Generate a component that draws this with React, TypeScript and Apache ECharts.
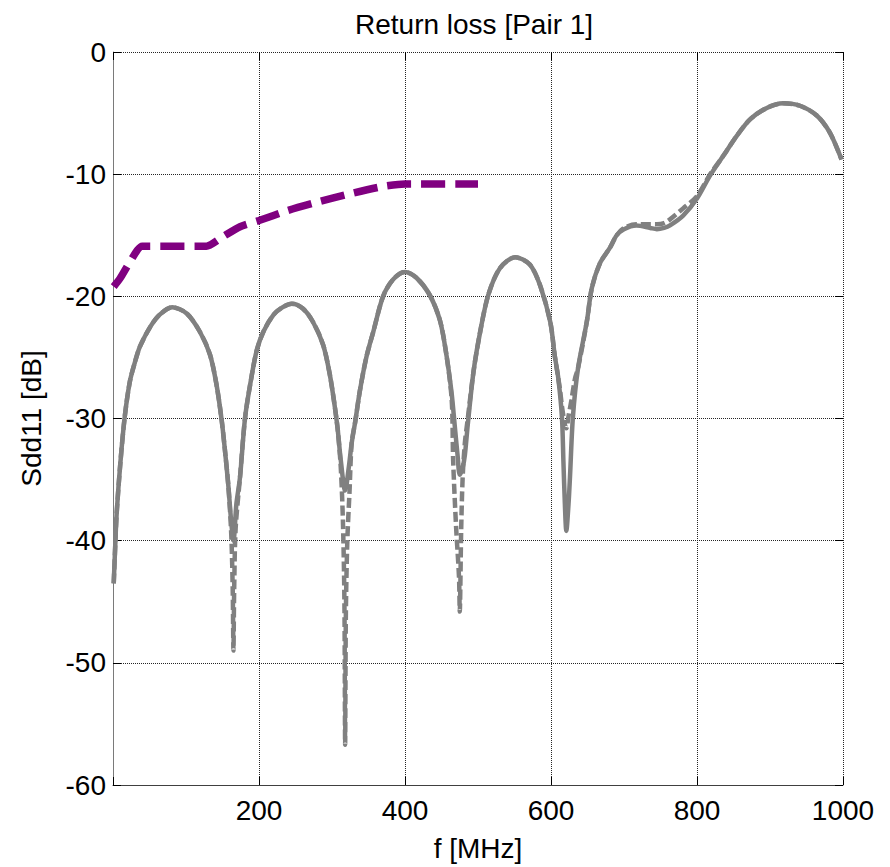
import React, { useEffect, useRef } from "react";
import * as echarts from "echarts";

const FONT = "'Liberation Sans', Arial, sans-serif";

const titleText = "Return loss [Pair 1]";
const xAxisName = "f [MHz]";
const yAxisName = "Sdd11 [dB]";

const xTicks = [0, 200, 400, 600, 800, 1000];
const yTicks = [-60, -50, -40, -30, -20, -10, 0];

const solidF = [
  1, 3, 5, 10, 16, 23, 30, 37, 51, 64, 81, 101, 119, 133, 142, 149, 153, 158, 162, 165, 169, 174, 181, 190, 197, 206, 220, 232, 245,
  260, 274, 288, 297, 304, 308, 312, 318, 323, 327, 332, 338, 347, 357, 370, 384, 400, 416, 434, 448, 457, 464, 468, 472, 475, 479,
  482, 486, 494, 503, 514, 530, 551, 571, 585, 599, 605, 610, 615, 617, 619, 621, 624, 626, 630, 637, 649, 656, 667, 681, 690, 700,
  717, 736, 745, 755, 763, 781, 800, 818, 836, 854, 873, 895, 918, 941, 964, 982, 998,
];
const solidDb = [
  -43.5, -40.5, -37.8, -33.7, -29.9, -27.0, -25.4, -24.1, -22.5, -21.5, -20.9, -21.4, -22.9, -24.8, -27.3, -30.2, -32.4, -35.5, -38.5,
  -40.0, -37.0, -34.8, -29.9, -26.5, -24.4, -22.9, -21.5, -20.9, -20.6, -21.0, -22.1, -24.0, -26.4, -29.1, -31.0, -33.4, -35.9, -34.0,
  -32.0, -30.2, -27.8, -25.0, -22.8, -20.0, -18.6, -18.0, -18.5, -19.9, -22.0, -24.9, -28.0, -30.5, -33.0, -34.6, -34.0, -33.0, -30.5,
  -26.1, -22.9, -19.9, -17.7, -16.8, -17.4, -19.1, -22.1, -24.8, -26.7, -29.9, -33.5, -37.0, -39.2, -37.0, -34.8, -29.9, -25.9, -22.1,
  -19.3, -17.3, -16.0, -15.0, -14.5, -14.2, -14.4, -14.5, -14.4, -14.2, -13.4, -12.0, -10.1, -8.5, -6.9, -5.5, -4.6, -4.2, -4.4, -5.2,
  -6.6, -8.8,
];

const dashedF = [
  1, 3, 5, 10, 16, 23, 30, 37, 51, 64, 81, 101, 119, 133, 142, 149, 153, 158, 162, 164, 165, 166, 168, 174, 181, 190, 197, 206, 220,
  232, 245, 260, 274, 288, 297, 304, 308, 312, 315, 317, 318, 319, 321, 324, 327, 332, 338, 347, 357, 370, 384, 400, 416, 434, 448,
  457, 464, 466, 470, 474, 475, 477, 479, 482, 486, 494, 503, 514, 530, 551, 571, 585, 599, 605, 612, 615, 619, 621, 624, 628, 633,
  637, 649, 656, 667, 681, 690, 700, 717, 736, 745, 755, 763, 781, 800, 818, 836, 854, 873, 895, 918, 941, 964, 982, 998,
];
const dashedDb = [
  -43.5, -40.5, -37.8, -33.7, -29.9, -27.0, -25.4, -24.1, -22.5, -21.5, -20.9, -21.4, -22.9, -24.8, -27.3, -30.2, -32.4, -35.5, -39.5,
  -44.0, -49.0, -44.0, -39.0, -34.8, -29.9, -26.5, -24.4, -22.9, -21.5, -20.9, -20.6, -21.0, -22.1, -24.0, -26.4, -29.1, -31.0, -34.0,
  -38.5, -45.0, -56.7, -46.0, -40.0, -36.0, -32.0, -30.2, -27.8, -25.0, -22.8, -20.0, -18.6, -18.0, -18.5, -19.9, -22.0, -24.9, -28.5,
  -33.5, -38.9, -43.0, -45.8, -39.0, -34.8, -32.0, -30.0, -26.1, -22.9, -19.9, -17.7, -16.8, -17.4, -19.1, -22.1, -24.8, -27.5, -29.0,
  -30.5, -30.8, -29.8, -28.5, -26.7, -25.9, -22.1, -19.3, -17.3, -16.0, -15.0, -14.4, -14.1, -14.1, -14.1, -14.0, -13.7, -12.8, -11.8,
  -10.0, -8.5, -6.9, -5.5, -4.6, -4.2, -4.4, -5.2, -6.6, -8.8,
];

const limitF = [1, 10, 23, 40, 128, 151, 174, 200, 238, 279, 325, 370, 400, 500];
const limitDb = [-19.2, -18.5, -17.2, -15.9, -15.9, -15.1, -14.3, -13.8, -13.0, -12.3, -11.6, -11.0, -10.8, -10.8];

const zip = (xs: number[], ys: number[]) => xs.map((x, i) => [x, ys[i]]);

export default function App() {
  const ref = useRef<HTMLDivElement>(null);

  useEffect(() => {
    if (!ref.current) return;
    const chart = echarts.init(ref.current, undefined, { renderer: "svg" });
    const xMin = xTicks[0];
    const xMax = xTicks[xTicks.length - 1];
    const xInt = xTicks[1] - xTicks[0];
    const yMin = yTicks[0];
    const yMax = yTicks[yTicks.length - 1];
    const yInt = yTicks[1] - yTicks[0];
    const labelStyle = { fontSize: 28, color: "#000", fontFamily: FONT };
    const grid = { type: [1, 1], color: "#262626", width: 1 };

    chart.setOption({
      animation: false,
      backgroundColor: "#fff",
      title: {
        text: titleText,
        left: 355,
        top: 10,
        padding: 0,
        textStyle: { fontSize: 28, fontWeight: "normal", color: "#000", fontFamily: FONT },
      },
      grid: { left: 113, right: 47, top: 52, bottom: 78 },
      xAxis: [
        {
          type: "value",
          min: xMin,
          max: xMax,
          interval: xInt,
          axisLine: { show: true, onZero: false, lineStyle: { color: "#404040", width: 1 } },
          axisTick: { show: true, inside: true, length: 8, lineStyle: { color: "#000" } },
          axisLabel: {
            ...labelStyle,
            margin: 11,
            formatter: (v: number) => (v === 0 ? "" : String(v)),
          },
          splitLine: { show: true, lineStyle: grid },
          name: xAxisName,
          nameLocation: "middle",
          nameGap: 49,
          nameTextStyle: labelStyle,
        },
        {
          type: "value",
          position: "top",
          min: xMin,
          max: xMax,
          interval: xInt,
          axisLine: { show: false, onZero: false },
          axisTick: { show: true, inside: true, length: 8, lineStyle: { color: "#000" } },
          axisLabel: { show: false },
          splitLine: { show: false },
        },
      ],
      yAxis: [
        {
          type: "value",
          min: yMin,
          max: yMax,
          interval: yInt,
          axisLine: { show: true, onZero: false, lineStyle: { color: "#7a7a7a", width: 1 } },
          axisTick: { show: true, inside: true, length: 8, lineStyle: { color: "#000" } },
          axisLabel: { ...labelStyle, margin: 7 },
          splitLine: { show: true, lineStyle: grid },
          name: yAxisName,
          nameLocation: "middle",
          nameGap: 68,
          nameTextStyle: labelStyle,
        },
        {
          type: "value",
          position: "right",
          min: yMin,
          max: yMax,
          interval: yInt,
          axisLine: { show: false, onZero: false },
          axisTick: { show: true, inside: true, length: 8, lineStyle: { color: "#000" } },
          axisLabel: { show: false },
          splitLine: { show: false },
        },
      ],
      series: [
        {
          type: "line",
          name: "solid",
          data: zip(solidF, solidDb),
          symbol: "none",
          smooth: 0.3,
          lineStyle: { color: "#808080", width: 4.5 },
          z: 2,
        },
        {
          type: "line",
          name: "dashed",
          data: zip(dashedF, dashedDb),
          symbol: "none",
          smooth: 0.3,
          lineStyle: { color: "#808080", width: 4.5, type: [10, 4] },
          z: 3,
        },
        {
          type: "line",
          name: "limit",
          data: zip(limitF, limitDb),
          symbol: "none",
          smooth: 0.2,
          lineStyle: { color: "#800080", width: 7.5, type: [24, 10] },
          z: 4,
        },
      ],
    });
    return () => chart.dispose();
  }, []);

  return (
    <div
      ref={ref}
      style={{ position: "fixed", left: 0, top: 0, width: 890, height: 867, background: "#fff" }}
    />
  );
}
